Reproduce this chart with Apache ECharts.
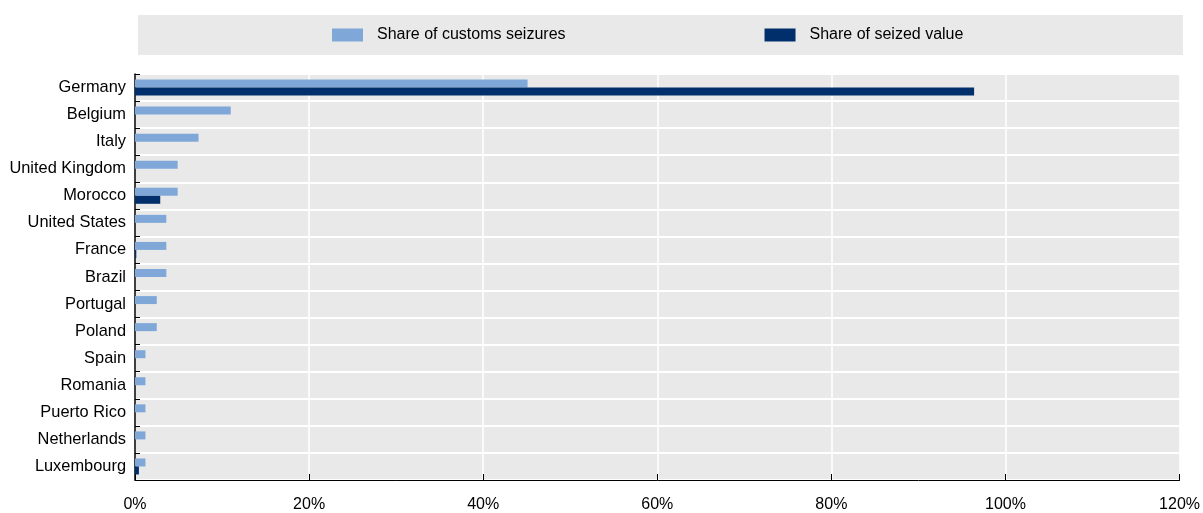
<!DOCTYPE html>
<html><head><meta charset="utf-8">
<script src="https://cdn.jsdelivr.net/npm/echarts@6/dist/echarts.min.js"></script>
<style>html,body{margin:0;padding:0;background:#fff}#c{width:1203px;height:513px}</style>
</head><body><div id="c"></div>
<script>
const categories = ["Germany","Belgium","Italy","United Kingdom","Morocco","United States","France","Brazil","Portugal","Poland","Spain","Romania","Puerto Rico","Netherlands","Luxembourg"];
const shareSeizures = [45.1,11.0,7.3,4.9,4.9,3.6,3.6,3.6,2.5,2.5,1.2,1.2,1.2,1.2,1.2];
const shareValue = [96.4,0,0,0,2.9,0,0.15,0,0,0,0,0,0,0,0.45];
const xTicks = [0,20,40,60,80,100,120];

const font = "Arial, 'Liberation Sans', sans-serif";
const chart = echarts.init(document.getElementById('c'), null, {renderer:'canvas'});
chart.setOption({
  animation:false,
  textStyle:{fontFamily:font},
  graphic:[{type:'rect',shape:{x:138,y:15,width:1045,height:40},style:{fill:'#e9e9e9'},z:-1}],
  legend:{
    left:327, top:22, itemWidth:31, itemHeight:13, itemGap:199, icon:'rect',
    textStyle:{fontFamily:font,fontSize:16,color:'#000',padding:[0,0,0,9]},
    data:['Share of customs seizures','Share of seized value']
  },
  grid:{left:135,right:23,top:74,bottom:32,show:true,backgroundColor:'#e9e9e9',borderWidth:0},
  xAxis:{
    type:'value',min:xTicks[0],max:xTicks[xTicks.length-1],interval:20,
    axisLine:{show:true,lineStyle:{color:'#000',width:1}},
    axisTick:{show:true,inside:true,length:6,lineStyle:{color:'#000'}},
    splitLine:{show:true,lineStyle:{color:'#fff',width:1.5}},
    axisLabel:{formatter:'{value}%',fontSize:16,color:'#000',margin:17,fontFamily:font}
  },
  yAxis:{
    type:'category',data:categories,inverse:true,
    axisLine:{show:true,lineStyle:{color:'#000',width:1.5}},
    axisTick:{show:true,inside:true,length:5,lineStyle:{color:'#000'}},
    splitLine:{show:true,lineStyle:{color:'#fff',width:2}},
    axisLabel:{fontSize:16.4,color:'#000',margin:9,fontFamily:font}
  },
  series:[
    {name:'Share of customs seizures',type:'bar',data:shareSeizures,barWidth:8,barGap:'0%',itemStyle:{color:'#7fa8d9'}},
    {name:'Share of seized value',type:'bar',data:shareValue,barWidth:8,barGap:'0%',itemStyle:{color:'#002f6c'}}
  ]
});
</script></body></html>
